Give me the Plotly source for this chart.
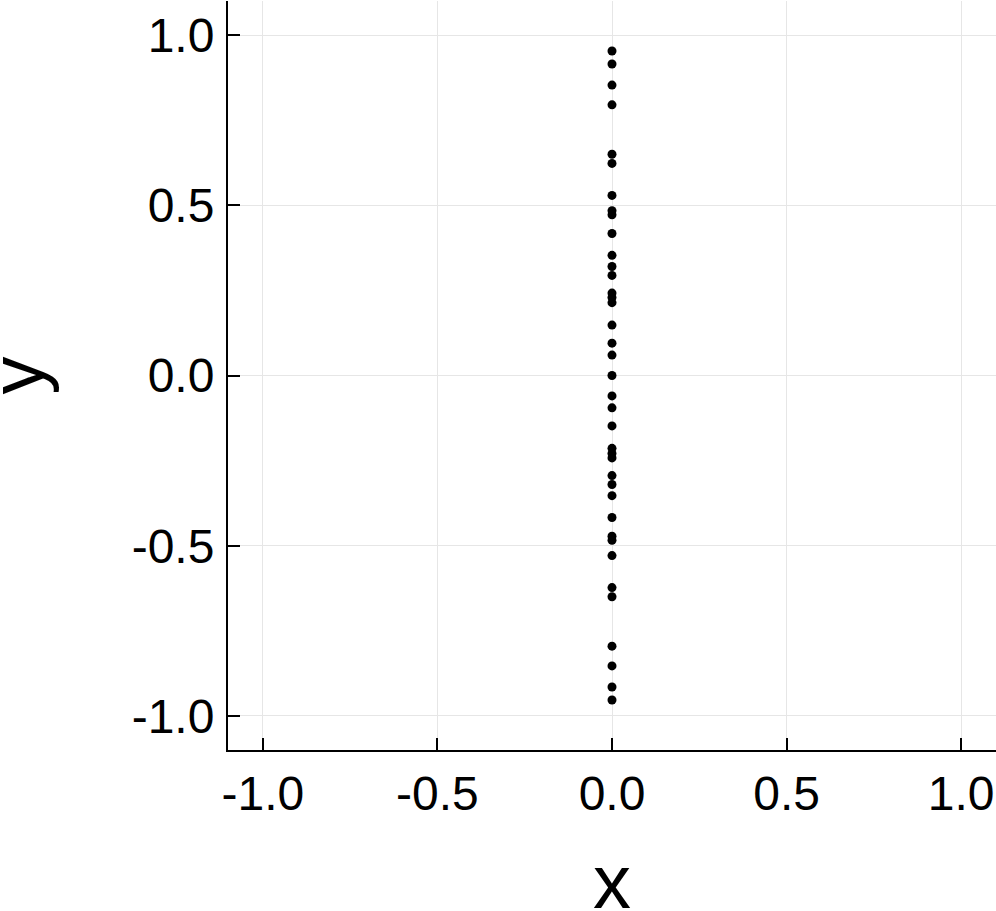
import plotly.graph_objects as go

x_vals = [0.0] * 39
y_vals = [0.953, 0.915, 0.853, 0.795, 0.650, 0.623, 0.529, 0.484, 0.472, 0.417,
          0.353, 0.320, 0.294, 0.242, 0.229, 0.214, 0.148, 0.095, 0.060, 0.0,
          -0.060, -0.095, -0.148, -0.214, -0.229, -0.242, -0.294, -0.320, -0.353,
          -0.417, -0.472, -0.484, -0.529, -0.623, -0.650, -0.795, -0.853, -0.915, -0.953]
tick_vals = [-1.0, -0.5, 0.0, 0.5, 1.0]
tick_text = ["-1.0", "-0.5", "0.0", "0.5", "1.0"]
x_title = "x"
y_title = "y"

font_family = "Liberation Sans, Arial, Helvetica, sans-serif"

fig = go.Figure()
fig.add_trace(go.Scatter(
    x=x_vals, y=y_vals, mode="markers",
    marker=dict(size=9, color="black", line=dict(width=0)),
    showlegend=False,
))

axis_common = dict(
    tickvals=tick_vals, ticktext=tick_text,
    showgrid=True, gridcolor="#e6e6e6", gridwidth=1,
    zeroline=False,
    showline=True, linecolor="black", linewidth=2,
    ticks="inside", ticklen=12, tickwidth=2, tickcolor="black",
    tickfont=dict(family=font_family, size=48, color="black"),
    mirror=False, automargin=False,
)

fig.update_layout(
    width=996, height=911,
    margin=dict(l=228, r=0, t=1, b=161),
    paper_bgcolor="white", plot_bgcolor="white",
    font=dict(family=font_family, color="black"),
    xaxis=dict(range=[-1.1, 1.1], ticklabelstandoff=0, **axis_common),
    yaxis=dict(range=[-1.1, 1.1], ticklabelstandoff=2, **axis_common),
    annotations=[
        dict(text=x_title, xref="paper", yref="paper", x=0.5, y=0,
             xanchor="center", yanchor="middle", yshift=-131, showarrow=False,
             font=dict(family=font_family, size=76, color="black")),
        dict(text=y_title, xref="paper", yref="paper", x=0, y=0.5,
             xanchor="center", yanchor="middle", xshift=-212, textangle=-90,
             showarrow=False,
             font=dict(family=font_family, size=76, color="black")),
    ],
)

fig.write_html("out.html", config={"displayModeBar": False},
               post_script="document.body.style.margin='0';document.body.style.overflow='hidden';")
